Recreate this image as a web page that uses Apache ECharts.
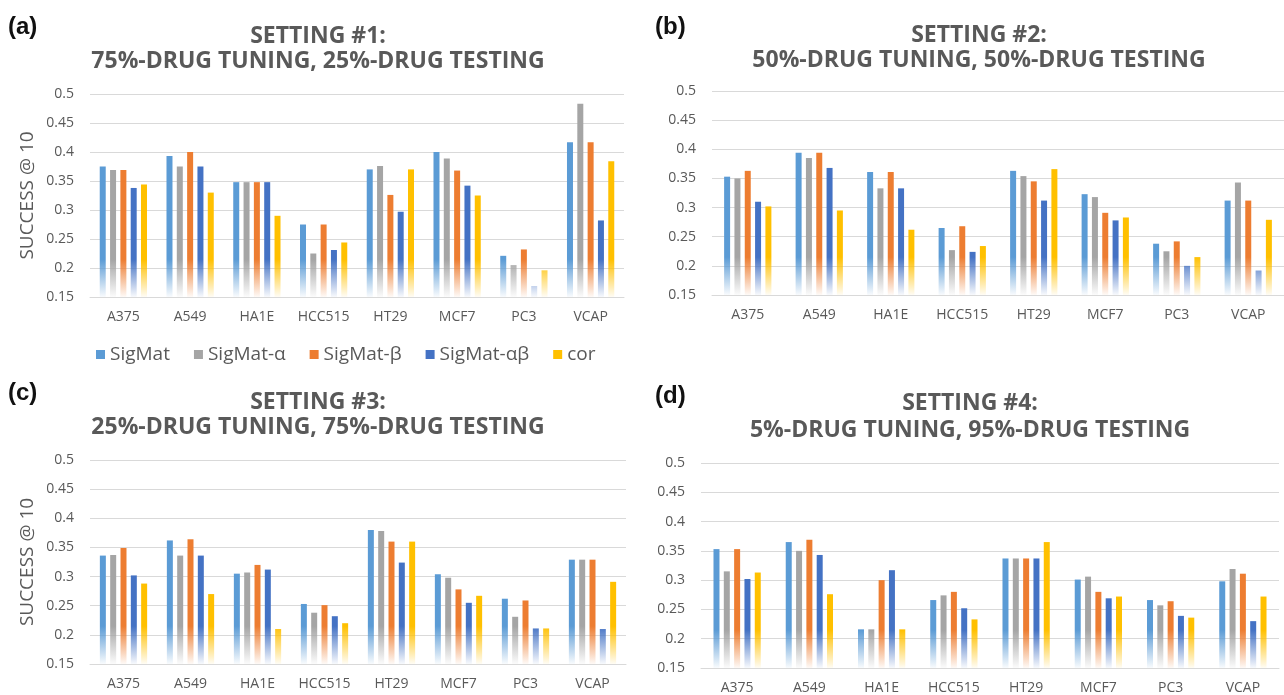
<!DOCTYPE html>
<html>
<head>
<meta charset="utf-8">
<script src="https://cdn.jsdelivr.net/npm/echarts@6/dist/echarts.min.js"></script>
<style>
html,body{margin:0;padding:0;background:#fff;}
#chart{width:1284px;height:695px;}
</style>
</head>
<body>
<div id="chart"></div>
<script>
// ---------- DATA ----------
const categories = ['A375', 'A549', 'HA1E', 'HCC515', 'HT29', 'MCF7', 'PC3', 'VCAP'];
const methodNames = ['SigMat', 'SigMat-α', 'SigMat-β', 'SigMat-αβ', 'cor'];
const yTicks = { min: 0.15, max: 0.5, interval: 0.05 };

// Setting #1: 75%-drug tuning, 25%-drug testing
const s1SigMat = [0.375, 0.393, 0.348, 0.275, 0.370, 0.400, 0.221, 0.417];
const s1Alpha  = [0.369, 0.375, 0.348, 0.225, 0.376, 0.389, 0.205, 0.483];
const s1Beta   = [0.369, 0.400, 0.348, 0.275, 0.326, 0.368, 0.232, 0.417];
const s1AB     = [0.338, 0.375, 0.348, 0.231, 0.297, 0.342, 0.169, 0.282];
const s1Cor    = [0.344, 0.330, 0.290, 0.244, 0.370, 0.325, 0.196, 0.384];

// Setting #2: 50%-drug tuning, 50%-drug testing
const s2SigMat = [0.353, 0.394, 0.361, 0.265, 0.363, 0.323, 0.238, 0.312];
const s2Alpha  = [0.350, 0.385, 0.333, 0.227, 0.354, 0.318, 0.225, 0.343];
const s2Beta   = [0.363, 0.394, 0.361, 0.268, 0.345, 0.291, 0.242, 0.312];
const s2AB     = [0.310, 0.368, 0.333, 0.224, 0.312, 0.278, 0.200, 0.192];
const s2Cor    = [0.302, 0.295, 0.262, 0.234, 0.366, 0.283, 0.215, 0.279];

// Setting #3: 25%-drug tuning, 75%-drug testing
const s3SigMat = [0.336, 0.362, 0.305, 0.253, 0.380, 0.304, 0.262, 0.329];
const s3Alpha  = [0.337, 0.336, 0.307, 0.238, 0.378, 0.298, 0.231, 0.329];
const s3Beta   = [0.349, 0.364, 0.320, 0.251, 0.360, 0.278, 0.259, 0.329];
const s3AB     = [0.302, 0.336, 0.312, 0.232, 0.324, 0.255, 0.211, 0.210];
const s3Cor    = [0.288, 0.270, 0.210, 0.220, 0.360, 0.267, 0.211, 0.291];

// Setting #4: 5%-drug tuning, 95%-drug testing
const s4SigMat = [0.353, 0.365, 0.216, 0.266, 0.337, 0.301, 0.266, 0.298];
const s4Alpha  = [0.315, 0.350, 0.216, 0.274, 0.337, 0.306, 0.257, 0.319];
const s4Beta   = [0.353, 0.369, 0.300, 0.280, 0.337, 0.280, 0.264, 0.311];
const s4AB     = [0.302, 0.343, 0.317, 0.252, 0.337, 0.269, 0.239, 0.230];
const s4Cor    = [0.313, 0.276, 0.216, 0.233, 0.365, 0.272, 0.236, 0.272];

const panelLabels = ['(a)', '(b)', '(c)', '(d)'];
const titleLine1 = ['SETTING #1:', 'SETTING #2:', 'SETTING #3:', 'SETTING #4:'];
const titleLine2 = ['75%-DRUG TUNING, 25%-DRUG TESTING', '50%-DRUG TUNING, 50%-DRUG TESTING',
                    '25%-DRUG TUNING, 75%-DRUG TESTING', '5%-DRUG TUNING, 95%-DRUG TESTING'];
const yAxisName = 'SUCCESS @ 10';

// ---------- LAYOUT / STYLE ----------
const colors = ['#5B9BD5', '#A5A5A5', '#ED7D31', '#4472C4', '#FFC000'];
const textGray = '#595959';
const gridLineColor = '#D9D9D9';
const grids = [
  { left: 90,  top: 94,  width: 534, height: 203 },
  { left: 712, top: 91,  width: 576, height: 204 },
  { left: 90,  top: 460, width: 536, height: 204 },
  { left: 701, top: 463, width: 578, height: 205 }
];
const headerPos = [
  { lx: 8,   ly: 27,  cx: 318, y1: 36,  y2: 61 },
  { lx: 655, ly: 27,  cx: 979, y1: 35,  y2: 60 },
  { lx: 8,   ly: 393, cx: 318, y1: 402, y2: 427 },
  { lx: 655, ly: 396, cx: 970, y1: 403, y2: 430 }
];
const settings = [
  [s1SigMat, s1Alpha, s1Beta, s1AB, s1Cor],
  [s2SigMat, s2Alpha, s2Beta, s2AB, s2Cor],
  [s3SigMat, s3Alpha, s3Beta, s3AB, s3Cor],
  [s4SigMat, s4Alpha, s4Beta, s4AB, s4Cor]
];

function rgba(hex, a) {
  const n = parseInt(hex.slice(1), 16);
  return 'rgba(' + ((n >> 16) & 255) + ',' + ((n >> 8) & 255) + ',' + (n & 255) + ',' + a + ')';
}

const chart = echarts.init(document.getElementById('chart'), null, { renderer: 'canvas' });

const xAxes = [], yAxes = [], series = [], graphics = [];
grids.forEach((g, gi) => {
  xAxes.push({
    type: 'category', gridIndex: gi, data: categories,
    axisLine: { show: true, lineStyle: { color: gridLineColor, width: 1 } },
    axisTick: { show: false },
    axisLabel: { color: textGray, fontSize: 14, fontFamily: 'Open Sans', margin: 13, interval: 0 }
  });
  yAxes.push({
    type: 'value', gridIndex: gi, min: yTicks.min, max: yTicks.max, interval: yTicks.interval,
    axisLine: { show: false }, axisTick: { show: false },
    axisLabel: { color: textGray, fontSize: 14, fontFamily: 'Open Sans', margin: 16 },
    splitLine: { lineStyle: { color: gridLineColor, width: 1 } },
    name: (gi % 2 === 0) ? yAxisName : '',
    nameLocation: 'middle', nameGap: 53,
    nameTextStyle: { color: textGray, fontSize: 19, fontFamily: 'Open Sans' }
  });
  const fadeStart = g.top + g.height * (yTicks.max - 0.215) / (yTicks.max - yTicks.min);
  const fadeEnd = g.top + g.height;
  settings[gi].forEach((vals, si) => {
    const c = colors[si];
    series.push({
      type: 'bar', name: methodNames[si], xAxisIndex: gi, yAxisIndex: gi,
      data: vals, barWidth: 6, barGap: '72%',
      itemStyle: {
        color: new echarts.graphic.LinearGradient(0, fadeStart, 0, fadeEnd, [
          { offset: 0, color: c },
          { offset: 1, color: rgba(c, 0.04) }
        ], true)
      },
      emphasis: { disabled: true },
      animation: false
    });
  });
  const h = headerPos[gi];
  graphics.push({
    type: 'text', x: h.lx, y: h.ly,
    style: { text: panelLabels[gi], fill: '#111', font: 'bold 24px "Liberation Sans", Arial, sans-serif',
             align: 'left', verticalAlign: 'middle' }
  });
  graphics.push({
    type: 'text', x: h.cx, y: h.y1,
    style: { text: titleLine1[gi], fill: textGray, font: 'bold 23px "Open Sans", sans-serif',
             align: 'center', verticalAlign: 'middle' }
  });
  graphics.push({
    type: 'text', x: h.cx, y: h.y2,
    style: { text: titleLine2[gi], fill: textGray, font: 'bold 23px "Open Sans", sans-serif',
             align: 'center', verticalAlign: 'middle' }
  });
});

chart.setOption({
  backgroundColor: '#ffffff',
  animation: false,
  color: colors,
  grid: grids.map(g => ({ left: g.left, top: g.top, width: g.width, height: g.height, containLabel: false })),
  xAxis: xAxes,
  yAxis: yAxes,
  legend: {
    data: methodNames.map((n, i) => ({ name: n, itemStyle: { color: colors[i] } })),
    left: 91, top: 340, icon: 'rect', itemWidth: 9, itemHeight: 9, itemGap: 24,
    textStyle: { color: textGray, fontSize: 19, fontFamily: 'Open Sans' },
    selectedMode: false
  },
  graphic: graphics,
  series: series
});
</script>
</body>
</html>
